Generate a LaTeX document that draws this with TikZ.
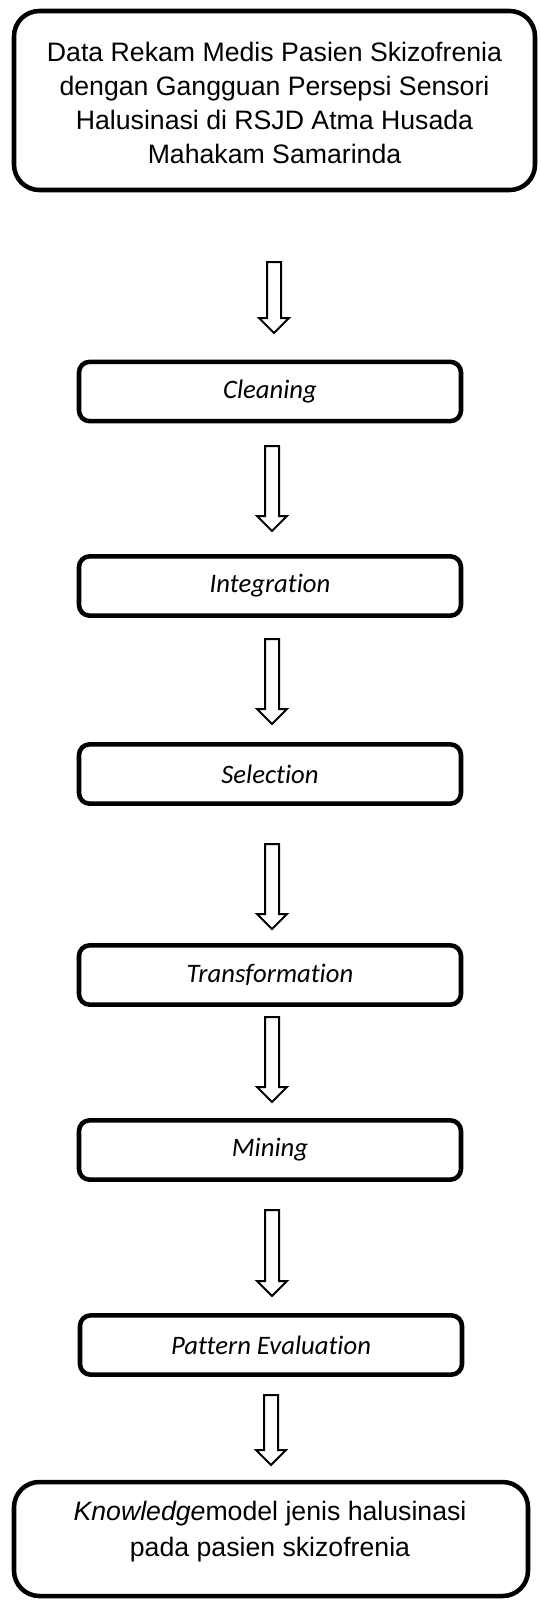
\documentclass[tikz,border=0pt]{standalone}
\usepackage{fontspec}
\setmainfont{Liberation Sans}
\newfontfamily\labelfont[Ligatures=NoCommon]{Carlito}
\usetikzlibrary{calc}

% hollow block arrow from a start coordinate (#1) down to its tip (#2)
\newcommand\blockarrow[2]{%
  \draw[arrowline] let \p1=(#1), \p2=(#2) in
    (\x1-5.25pt,\y1) -- (\x1+5.25pt,\y1) -- (\x1+5.25pt,\y2+11.25pt)
    -- (\x1+11.25pt,\y2+11.25pt) -- (\x2,\y2) -- (\x1-11.25pt,\y2+11.25pt)
    -- (\x1-5.25pt,\y2+11.25pt) -- cycle;}

\tikzset{
  framebox/.style={draw, line width=3.4pt, rounded corners=19pt, inner sep=0pt},
  stepbox/.style={draw, line width=3.4pt, rounded corners=8pt, inner sep=0pt,
    minimum width=286.5pt, minimum height=44.5pt,
    font=\labelfont\itshape\fontsize{20}{24}\selectfont},
  bigtext/.style={align=center, inner sep=0pt, font=\fontsize{20}{25.5}\selectfont},
  endtext/.style={align=center, inner sep=0pt, font=\fontsize{20}{27}\selectfont},
  arrowline/.style={draw, line width=1.5pt, fill=white, line join=miter},
}

\begin{document}
\begin{tikzpicture}[x=0.75pt, y=-0.75pt]
\useasboundingbox (0,0) rectangle (541,1600);

% source box
\node[framebox, minimum width=390.75pt, minimum height=134.25pt] (source) at (274.5,100.5) {};
\node[bigtext] (sourcetext) at (274.5,103) {Data Rekam Medis Pasien Skizofrenia\\dengan Gangguan Persepsi Sensori\\Halusinasi di RSJD Atma Husada\\Mahakam Samarinda};

% process steps
\node[stepbox] (cleaning)  at (270,391.5)  {Cleaning};
\node[stepbox] (integration) at (270,586)  {Integration};
\node[stepbox] (selection) at (270,774)    {Selection};
\node[stepbox] (transformation) at (270,975) {Transformation};
\node[stepbox] (mining)    at (270,1150)   {Mining};
\node[stepbox] (pattern)   at (271,1345)   {Pattern Evaluation};

% result box
\node[framebox, minimum width=385.5pt, minimum height=85.5pt] (knowledge) at (271,1539) {};
\node[endtext] (knowledgetext) at (270,1532) {\textit{Knowledge}model jenis halusinasi\\pada pasien skizofrenia};

% arrow end points
\coordinate (a1s) at (274,262);  \coordinate (a1e) at (274,333);
\coordinate (a2s) at (272,446);  \coordinate (a2e) at (272,531);
\coordinate (a3s) at (272,639);  \coordinate (a3e) at (272,724);
\coordinate (a4s) at (272,844);  \coordinate (a4e) at (272,929);
\coordinate (a5s) at (272,1017); \coordinate (a5e) at (272,1102);
\coordinate (a6s) at (272,1210); \coordinate (a6e) at (272,1296);
\coordinate (a7s) at (271,1395); \coordinate (a7e) at (271,1465);

\blockarrow{a1s}{a1e}
\blockarrow{a2s}{a2e}
\blockarrow{a3s}{a3e}
\blockarrow{a4s}{a4e}
\blockarrow{a5s}{a5e}
\blockarrow{a6s}{a6e}
\blockarrow{a7s}{a7e}
\end{tikzpicture}
\end{document}
